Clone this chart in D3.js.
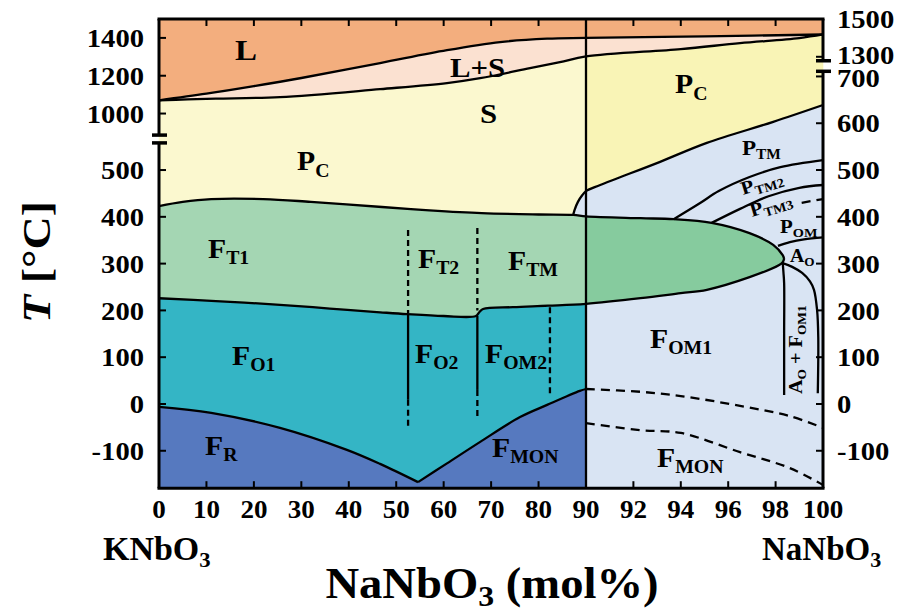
<!DOCTYPE html>
<html><head><meta charset="utf-8">
<script src="https://cdn.jsdelivr.net/npm/d3@7"></script>
<style>
body{margin:0;background:#fff}
svg{display:block}
text{font-family:"Liberation Serif","Times New Roman",serif;font-weight:bold;fill:#000}
</style>
</head><body>
<svg id="c" width="901" height="612"></svg>
<script>
// ---------------- data (x = mol% NaNbO3, T = °C) ----------------
const xTicksLeft = [0,10,20,30,40,50,60,70,80,90];
const xTicksRight = [92,94,96,98,100];
const yTicksLeft = [-100,0,100,200,300,400,500,1000,1200,1400];
const yTicksRight = [-100,0,100,200,300,400,500,600,700,1300,1500];

const liquidus = [[0,1070],[10,1105],[20,1145],[30,1188],[46.6,1267],[60.7,1335],[71.9,1378],[81.8,1396],[90,1400],[95,1408],[100,1418]];
const solidus = [[0,1070],[6,1075],[12,1079],[25.5,1087],[46.6,1129],[60.7,1161],[67.7,1187],[78.2,1240],[84.5,1272],[90,1302],[94,1341],[96.5,1372],[99,1399],[100,1418]];
const ftTopLeft = [[0,423],[5,432],[11,438],[22,438],[32,432],[47,421],[57,414],[68,408],[80,405],[87.3,404],[90,401]];
const lensTop = [[90,401],[92.3,397],[93.7,395],[95.3,387],[96.9,365],[97.9,340],[98.3,318],[98.36,310]];
const ftBotLeft = [[0,226],[12,220],[25.5,212],[36,204],[46.6,196],[52.3,192],[60,188],[66.8,188],[67.5,196],[68.3,203],[74.6,207],[82,210],[90,214]];
const lensBot = [[90,214],[92.3,226],[94,237],[95.1,244],[96.9,271],[98.15,297],[98.3,303],[98.36,310]];
const frFO1 = [[0,-6],[11,-19],[25.5,-51],[39.6,-98],[46.6,-128],[54.6,-167]];
const frFO2 = [[54.6,-167],[60.7,-127],[67.7,-81],[76.1,-28],[81.8,-2],[88.7,28],[90,32]];
const pcPTM = [[87.3,404],[87.6,415],[88.3,432],[89.2,446],[90,455],[90.6,468],[93.1,517],[95.1,558],[97.9,603],[100,639]];
const ptmPtm2 = [[93.7,395],[94.8,429],[95.6,455],[96.9,485],[98.2,506],[100,521]];
const ptm2Ptm3 = [[95.3,387],[96.5,417],[97.7,444],[99,462],[100,468]];
const ptm3Pom = [[99.1,430],[100,438]];
const pomAo = [[98.1,338],[98.6,346],[99.2,352],[100,356]];
const aoLeft = [[98.3,302],[98.33,282],[98.36,258],[98.36,150],[98.36,19]];
const aoRight = [[98.3,301],[98.7,293],[99.12,280],[99.45,262],[99.62,244],[99.75,201],[99.8,143],[99.78,23]];
const fmonUpper = [[90,32],[92.3,26],[94,17],[96.5,-4],[98.6,-26],[100,-51]];
const fmonLower = [[90,-41],[92.3,-56],[94,-62],[96.5,-103],[98.6,-137],[100,-173]];
const vLine1Dash = [[52.5,372],[52.5,194]];
const vLine1Solid = [[52.5,192],[52.5,9]];
const vLine1Tail = [[52.5,9],[52.5,-51]];
const vLine2Dash = [[67.1,376],[67.1,200]];
const vLine2Solid = [[67.1,188],[67.1,30]];
const vLine2Tail = [[67.1,30],[67.1,-34]];
const vLine3Dash = [[82.4,207],[82.4,19]];

// ---------------- scales ----------------
const x = d3.scaleLinear().domain([0,90,100]).range([159,586,823]);
const yL = d3.scaleLinear().domain([-180,558,886,1500]).range([488.2,142.9,135.1,19]);
const yR = d3.scaleLinear().domain([-180,711,1279,1500]).range([488.2,71.3,60.75,19]);
const pt = d => [x(d[0]), d[0] <= 90 ? yL(d[1]) : yR(d[1])];
const curve = d3.curveCatmullRom.alpha(0.5);
const seg = pts => d3.line().curve(curve)(pts.map(pt));
const lin = pts => d3.line()(pts.map(pt));
const poly = (...parts) => parts.map((s,i) => i ? s.replace(/^M/,'L') : s).join('') + 'Z';
const rev = a => a.slice().reverse();

const svg = d3.select('#c');
const gF = svg.append('g');
const gL = svg.append('g').attr('fill','none').attr('stroke','#000').attr('stroke-width',2.3);

const solL = solidus.filter(d => d[0] <= 90), solR = solidus.filter(d => d[0] >= 90);
const pcL = pcPTM.filter(d => d[0] <= 90), pcR = pcPTM.filter(d => d[0] >= 90);
const ftTopNo90 = ftTopLeft.filter(d => d[0] <= 87.3);
const topT = yTicksRight[yTicksRight.length-1];

const fills = [
  ['#f3ae7e', poly(seg(liquidus), lin([[100,topT],[0,topT]]))],
  ['#fbe1d1', poly(seg(liquidus), seg(rev(solidus)))],
  ['#fbf8cf', poly(seg(solL), lin([solL[solL.length-1], pcL[pcL.length-1]]), seg(rev(pcL)), seg(rev(ftTopNo90)))],
  ['#f9f4b6', poly(seg(solR), lin([solR[solR.length-1], pcR[pcR.length-1]]), seg(rev(pcR)))],
  ['#d9e4f3', poly(seg(pcPTM), lin([pcPTM[pcPTM.length-1],[100,-180],[90,-180],[90,401],[87.3,404]]))],
  ['#a4d6b3', poly(seg(ftTopLeft), lin([[90,401],[90,214]]), seg(rev(ftBotLeft)))],
  ['#86cb9e', poly(seg(lensTop), seg(rev(lensBot)))],
  ['#34b5c5', poly(seg(ftBotLeft), lin([[90,214],[90,32]]), seg(rev(frFO2)), seg(rev(frFO1)))],
  ['#5679bf', poly(seg(frFO1), seg(frFO2), lin([[90,32],[90,-180],[0,-180]]))]
];
gF.selectAll('path').data(fills).join('path').attr('d', d => d[1]).attr('fill', d => d[0]).attr('stroke', d => d[0]).attr('stroke-width', 0.6);

const solidLines = [liquidus, solidus, ftTopLeft.concat(lensTop.slice(1)), ftBotLeft.concat(lensBot.slice(1)),
  frFO1, frFO2, pcPTM, ptmPtm2, ptm2Ptm3, pomAo, aoLeft, aoRight, vLine1Solid, vLine2Solid];
gL.selectAll('path.s').data(solidLines).join('path').attr('class','s').attr('d', d => seg(d));
gL.selectAll('path.d1').data([fmonUpper, fmonLower, ptm3Pom]).join('path').attr('class','d1')
  .attr('d', d => seg(d)).attr('stroke-dasharray','9,6');
gL.selectAll('path.d2').data([vLine1Dash, vLine1Tail, vLine2Dash, vLine2Tail, vLine3Dash]).join('path').attr('class','d2')
  .attr('d', d => lin(d)).attr('stroke-dasharray','6,4');
gL.append('path').attr('d', lin([[90,-180],[90,1500]]));

// ---------------- frame, ticks, breaks ----------------
const gA = svg.append('g').attr('stroke','#000');
const x0 = x(0), x1 = x(100), yTop = yL(1500), yBot = yL(-180);
gA.append('line').attr('x1',x0-1.5).attr('x2',x1+1.5).attr('y1',yTop).attr('y2',yTop).attr('stroke-width',3);
gA.append('line').attr('x1',x0-1.5).attr('x2',x1+1.5).attr('y1',yBot).attr('y2',yBot).attr('stroke-width',3);
gA.append('line').attr('x1',x0).attr('x2',x0).attr('y1',yTop).attr('y2',yL(886)-0.5).attr('stroke-width',3);
gA.append('line').attr('x1',x0).attr('x2',x0).attr('y1',yL(558)+0.5).attr('y2',yBot).attr('stroke-width',3);
gA.append('line').attr('x1',x1).attr('x2',x1).attr('y1',yTop).attr('y2',yR(1279)-0.5).attr('stroke-width',3);
gA.append('line').attr('x1',x1).attr('x2',x1).attr('y1',yR(711)+0.5).attr('y2',yBot).attr('stroke-width',3);
[yL(886), yL(558)].forEach(v => gA.append('line').attr('x1',x0-7).attr('x2',x0+8).attr('y1',v).attr('y2',v).attr('stroke-width',3.5));
[yR(1279), yR(711)].forEach(v => gA.append('line').attr('x1',x1-7).attr('x2',x1+8).attr('y1',v).attr('y2',v).attr('stroke-width',3.5));

const tl = 7;
yTicksLeft.forEach(v => gA.append('line').attr('x1',x0).attr('x2',x0+tl).attr('y1',yL(v)).attr('y2',yL(v)).attr('stroke-width',2));
yTicksRight.forEach(v => gA.append('line').attr('x1',x1).attr('x2',x1-tl).attr('y1',yR(v)).attr('y2',yR(v)).attr('stroke-width',2));
const xAll = xTicksLeft.concat(xTicksRight);
xAll.filter(v => v > 0 && v < 100).forEach(v => {
  gA.append('line').attr('x1',x(v)).attr('x2',x(v)).attr('y1',yBot).attr('y2',yBot-tl).attr('stroke-width',2);
  gA.append('line').attr('x1',x(v)).attr('x2',x(v)).attr('y1',yTop).attr('y2',yTop+tl).attr('stroke-width',2);
});

// tick labels
const gT = svg.append('g').attr('font-size',26);
yTicksLeft.forEach(v => gT.append('text').attr('text-anchor','end').attr('dy','0.35em')
  .attr('transform',`translate(144,${yL(v)}) scale(1.1,1)`).text(v));
const nudge = {1300:-1.5, 700:1.5};
yTicksRight.forEach(v => gT.append('text').attr('text-anchor','start').attr('dy','0.35em')
  .attr('transform',`translate(837,${yR(v) + (nudge[v]||0)}) scale(1.1,1)`).text(v));
xAll.forEach(v => gT.append('text').attr('text-anchor','middle')
  .attr('transform',`translate(${x(v)},518) scale(1.04,1)`).text(v));

// ---------------- labels ----------------
function label(px, py, main, sub, size, subSize, dy, opts = {}) {
  const sx = opts.sx || 1.1, rot = opts.rot || 0;
  const t = svg.append('text').attr('font-size', size)
    .attr('transform', `translate(${px},${py}) rotate(${rot}) scale(${sx},1)`)
    .attr('text-anchor', opts.anchor || 'start');
  t.append('tspan').text(main);
  if (sub) t.append('tspan').attr('font-size', subSize).attr('dy', dy).text(sub);
  if (opts.tail) {
    t.append('tspan').attr('dy', -dy).text(opts.tail);
    if (opts.tailSub) t.append('tspan').attr('font-size', subSize).attr('dy', dy).text(opts.tailSub);
  }
  return t;
}
label(235,60,'L',null,30);
label(450,77,'L+S',null,28);
label(480,123,'S',null,28);
label(297,170,'P','C',27,18,7);
label(675,93,'P','C',27,18,7);
label(208,258,'F','T1',27,18,6);
label(418,268,'F','T2',27,18,6);
label(508,270,'F','TM',27,18,6);
label(232,365,'F','O1',27,18,6);
label(415,363,'F','O2',27,18,6);
label(485,363,'F','OM2',27,18,6);
label(650,348,'F','OM1',27,18,6);
label(205,455,'F','R',27,18,6);
label(492,457,'F','MON',27,18,6);
label(657,467,'F','MON',27,18,6);
label(742,155,'P','TM',21,14,4);
label(743,195,'P','TM2',19,13,4,{rot:-17});
label(752,217,'P','TM3',19,13,4,{rot:-17});
label(780,233,'P','OM',19,13,4);
label(790,262,'A','O',18,12,4);
label(802,394,'A','O',18,12,4,{rot:-90,sx:1.12,tail:' + F',tailSub:'OM1'});

// axis titles
const yt = svg.append('text').attr('font-size',40).attr('text-anchor','middle')
  .attr('transform','translate(50,262) rotate(-90) scale(1.15,1)');
yt.append('tspan').attr('font-style','italic').text('T');
yt.append('tspan').text(' [°C]');
label(103,560,'KNbO','3',33,22,7,{sx:1.03});
label(762,560,'NaNbO','3',33,22,7,{sx:1.0});
label(492,598,'NaNbO','3',44,30,8,{anchor:'middle',sx:1.06,tail:' (mol%)'});
</script>
</body></html>
